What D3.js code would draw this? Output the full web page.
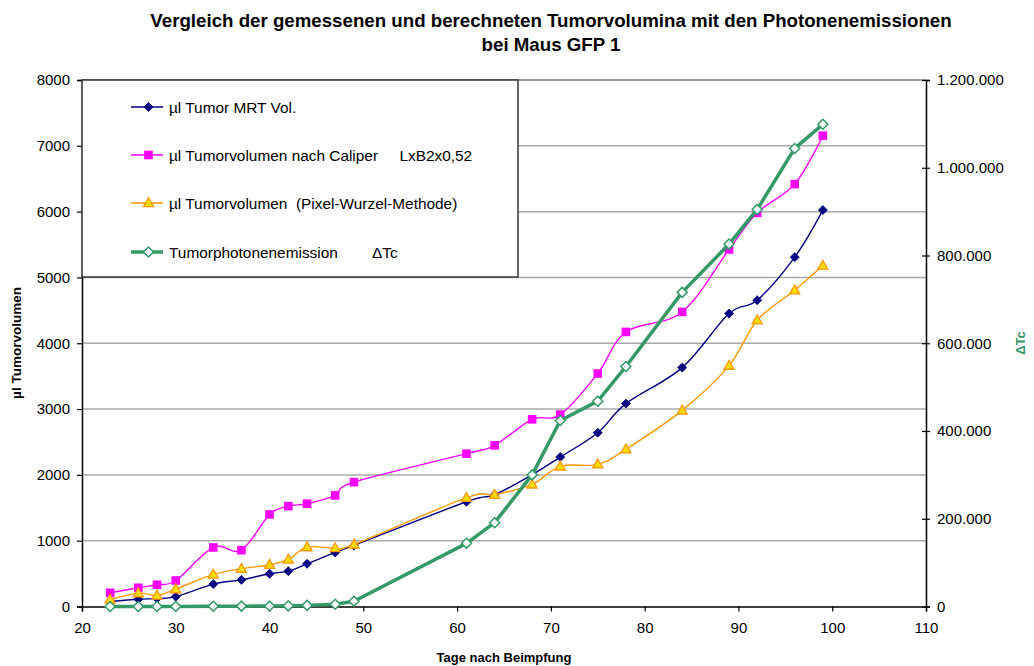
<!DOCTYPE html>
<html><head><meta charset="utf-8">
<script src="https://cdn.jsdelivr.net/npm/d3@7/dist/d3.min.js"></script>
<style>
body{margin:0;background:#fff;}
svg{font-family:Arial,"Liberation Sans",sans-serif;}
</style></head>
<body><svg id="c" width="1034" height="666"></svg>
<script>
// ---- data ----
const days = [23,26,28,30,34,37,40,42,44,47,49,61,64,68,71,75,78,84,89,92,96,99];
const mrt = [75,110,120,150,340,405,497,537,649,821,928,1592,1699,2003,2271,2641,3083,3630,4451,4654,5308,6023];
const caliper = [208,284,330,395,897,856,1399,1525,1562,1688,1890,2322,2449,2844,2915,3540,4172,4476,5425,5982,6418,7153];
const pixel = [106,203,167,264,487,573,634,715,902,887,943,1653,1699,1855,2129,2160,2388,2980,3660,4350,4806,5181];
const photon = [0,0,0,0,500,800,1000,1500,2500,5000,12000,144000,191000,300000,424000,468000,547000,716000,826000,905000,1044000,1099000];
const xTicks = [20,30,40,50,60,70,80,90,100,110];
const yTicks = [0,1000,2000,3000,4000,5000,6000,7000,8000];
const y2Ticks = [0,200000,400000,600000,800000,1000000,1200000];
const seriesNames = ["µl Tumor MRT Vol.","µl Tumorvolumen nach Caliper     LxB2x0,52","µl Tumorvolumen  (Pixel-Wurzel-Methode)","Tumorphotonenemission        ΔTc"];
const titleLines = ["Vergleich der gemessenen und berechneten Tumorvolumina mit den Photonenemissionen","bei Maus GFP 1"];

const svg = d3.select("#c");
const L=82, R=926, T=80, B=606.5;
const x = d3.scaleLinear().domain([20,110]).range([L,R]);
const y = d3.scaleLinear().domain([0,8000]).range([B,T]);
const y2 = d3.scaleLinear().domain([0,1200000]).range([B,T]);
const de = d3.formatLocale({decimal:",",thousands:".",grouping:[3],currency:["","€"]});
const f2 = de.format(",d");

// gridlines
svg.append("g").selectAll("line").data(yTicks.filter(d=>d>0)).join("line")
  .attr("x1",L).attr("x2",R).attr("y1",d=>y(d)).attr("y2",d=>y(d))
  .attr("stroke",d=>d===8000?"#808080":"#a8a8a8").attr("stroke-width",1.5);

// axes
const gl = svg.append("g").attr("transform",`translate(${L},0)`)
  .call(d3.axisLeft(y).tickValues(yTicks).tickSize(5).tickPadding(7).tickFormat(d3.format("d")));
const gb = svg.append("g").attr("transform",`translate(0,${B})`)
  .call(d3.axisBottom(x).tickValues(xTicks).tickSize(5).tickPadding(7).tickFormat(d3.format("d")));
const gr = svg.append("g").attr("transform",`translate(${R},0)`)
  .call(d3.axisRight(y2).tickValues(y2Ticks).tickSize(4).tickPadding(7).tickFormat(f2));
gr.selectAll(".tick line").attr("x1",-4);
[gl,gb,gr].forEach(g=>{
  g.select(".domain").attr("stroke","#000").attr("stroke-width",1.5);
  g.selectAll(".tick line").attr("stroke","#000").attr("stroke-width",1.2);
  g.selectAll("text").attr("font-size",15).attr("fill","#000").attr("font-family","Arial, Liberation Sans, sans-serif");
});
gb.selectAll("text").attr("dy","0.95em");

// legend box
svg.append("rect").attr("x",82).attr("y",80).attr("width",436).attr("height",197)
  .attr("fill","#fff").attr("stroke","#333").attr("stroke-width",1.5);

// markers
function marker(g, type, cx, cy){
  if(type===0){ // navy diamond
    g.append("path").attr("d",`M${cx},${cy-4.5}L${cx+4.5},${cy}L${cx},${cy+4.5}L${cx-4.5},${cy}Z`)
      .attr("fill","#000080").attr("stroke","#000080").attr("stroke-width",0.8);
  } else if(type===1){
    g.append("rect").attr("x",cx-4.3).attr("y",cy-4.3).attr("width",8.6).attr("height",8.6).attr("fill","#FF00FF");
  } else if(type===2){
    g.append("path").attr("d",`M${cx},${cy-5.2}L${cx+5},${cy+3.6}L${cx-5},${cy+3.6}Z`)
      .attr("fill","#FFDD00").attr("stroke","#FF9900").attr("stroke-width",1.3);
  } else {
    g.append("path").attr("d",`M${cx},${cy-5}L${cx+5},${cy}L${cx},${cy+5}L${cx-5},${cy}Z`)
      .attr("fill","#fff").attr("stroke","#339966").attr("stroke-width",1.5);
  }
}
const colors = ["#000080","#FF00FF","#FF9900","#339966"];
const widths = [1.4,1.4,1.4,3.5];
const data = [mrt,caliper,pixel,photon];
const smooth = d3.curveCardinal.tension(0);

data.forEach((vals,i)=>{
  const ys = i===3 ? y2 : y;
  const pts = days.map((d,j)=>[x(d), ys(vals[j])]);
  const g = svg.append("g");
  g.append("path").attr("d", d3.line().curve(i===3?d3.curveLinear:smooth)(pts))
    .attr("fill","none").attr("stroke",colors[i]).attr("stroke-width",widths[i]).attr("stroke-linejoin","round");
  pts.forEach(p=>marker(g,i,p[0],p[1]));
});

// legend entries
const legY = [107,155,203,252];
seriesNames.forEach((n,i)=>{
  const g = svg.append("g");
  g.append("line").attr("x1",131).attr("x2",163).attr("y1",legY[i]).attr("y2",legY[i])
    .attr("stroke",colors[i]).attr("stroke-width",i===3?3.5:1.5);
  marker(g,i,148.5,legY[i]);
  g.append("text").attr("x",169).attr("y",legY[i]).attr("dy","0.36em")
    .attr("font-size",15.4).attr("fill","#000").style("white-space","pre").text(n);
});

// titles
svg.append("text").attr("x",551).attr("y",27).attr("text-anchor","middle")
  .attr("font-size",18.7).attr("font-weight","bold").text(titleLines[0]);
svg.append("text").attr("x",551).attr("y",51).attr("text-anchor","middle")
  .attr("font-size",18.7).attr("font-weight","bold").text(titleLines[1]);
svg.append("text").attr("x",504).attr("y",662).attr("text-anchor","middle")
  .attr("font-size",13).attr("font-weight","bold").text("Tage nach Beimpfung");
svg.append("text").attr("transform","translate(21,343) rotate(-90)").attr("text-anchor","middle")
  .attr("font-size",13.5).attr("font-weight","bold").text("µl Tumorvolumen");
svg.append("text").attr("transform","translate(1025,343) rotate(-90)").attr("text-anchor","middle")
  .attr("font-size",13).attr("font-weight","bold").attr("fill","#339966").text("ΔTc");
</script></body></html>
